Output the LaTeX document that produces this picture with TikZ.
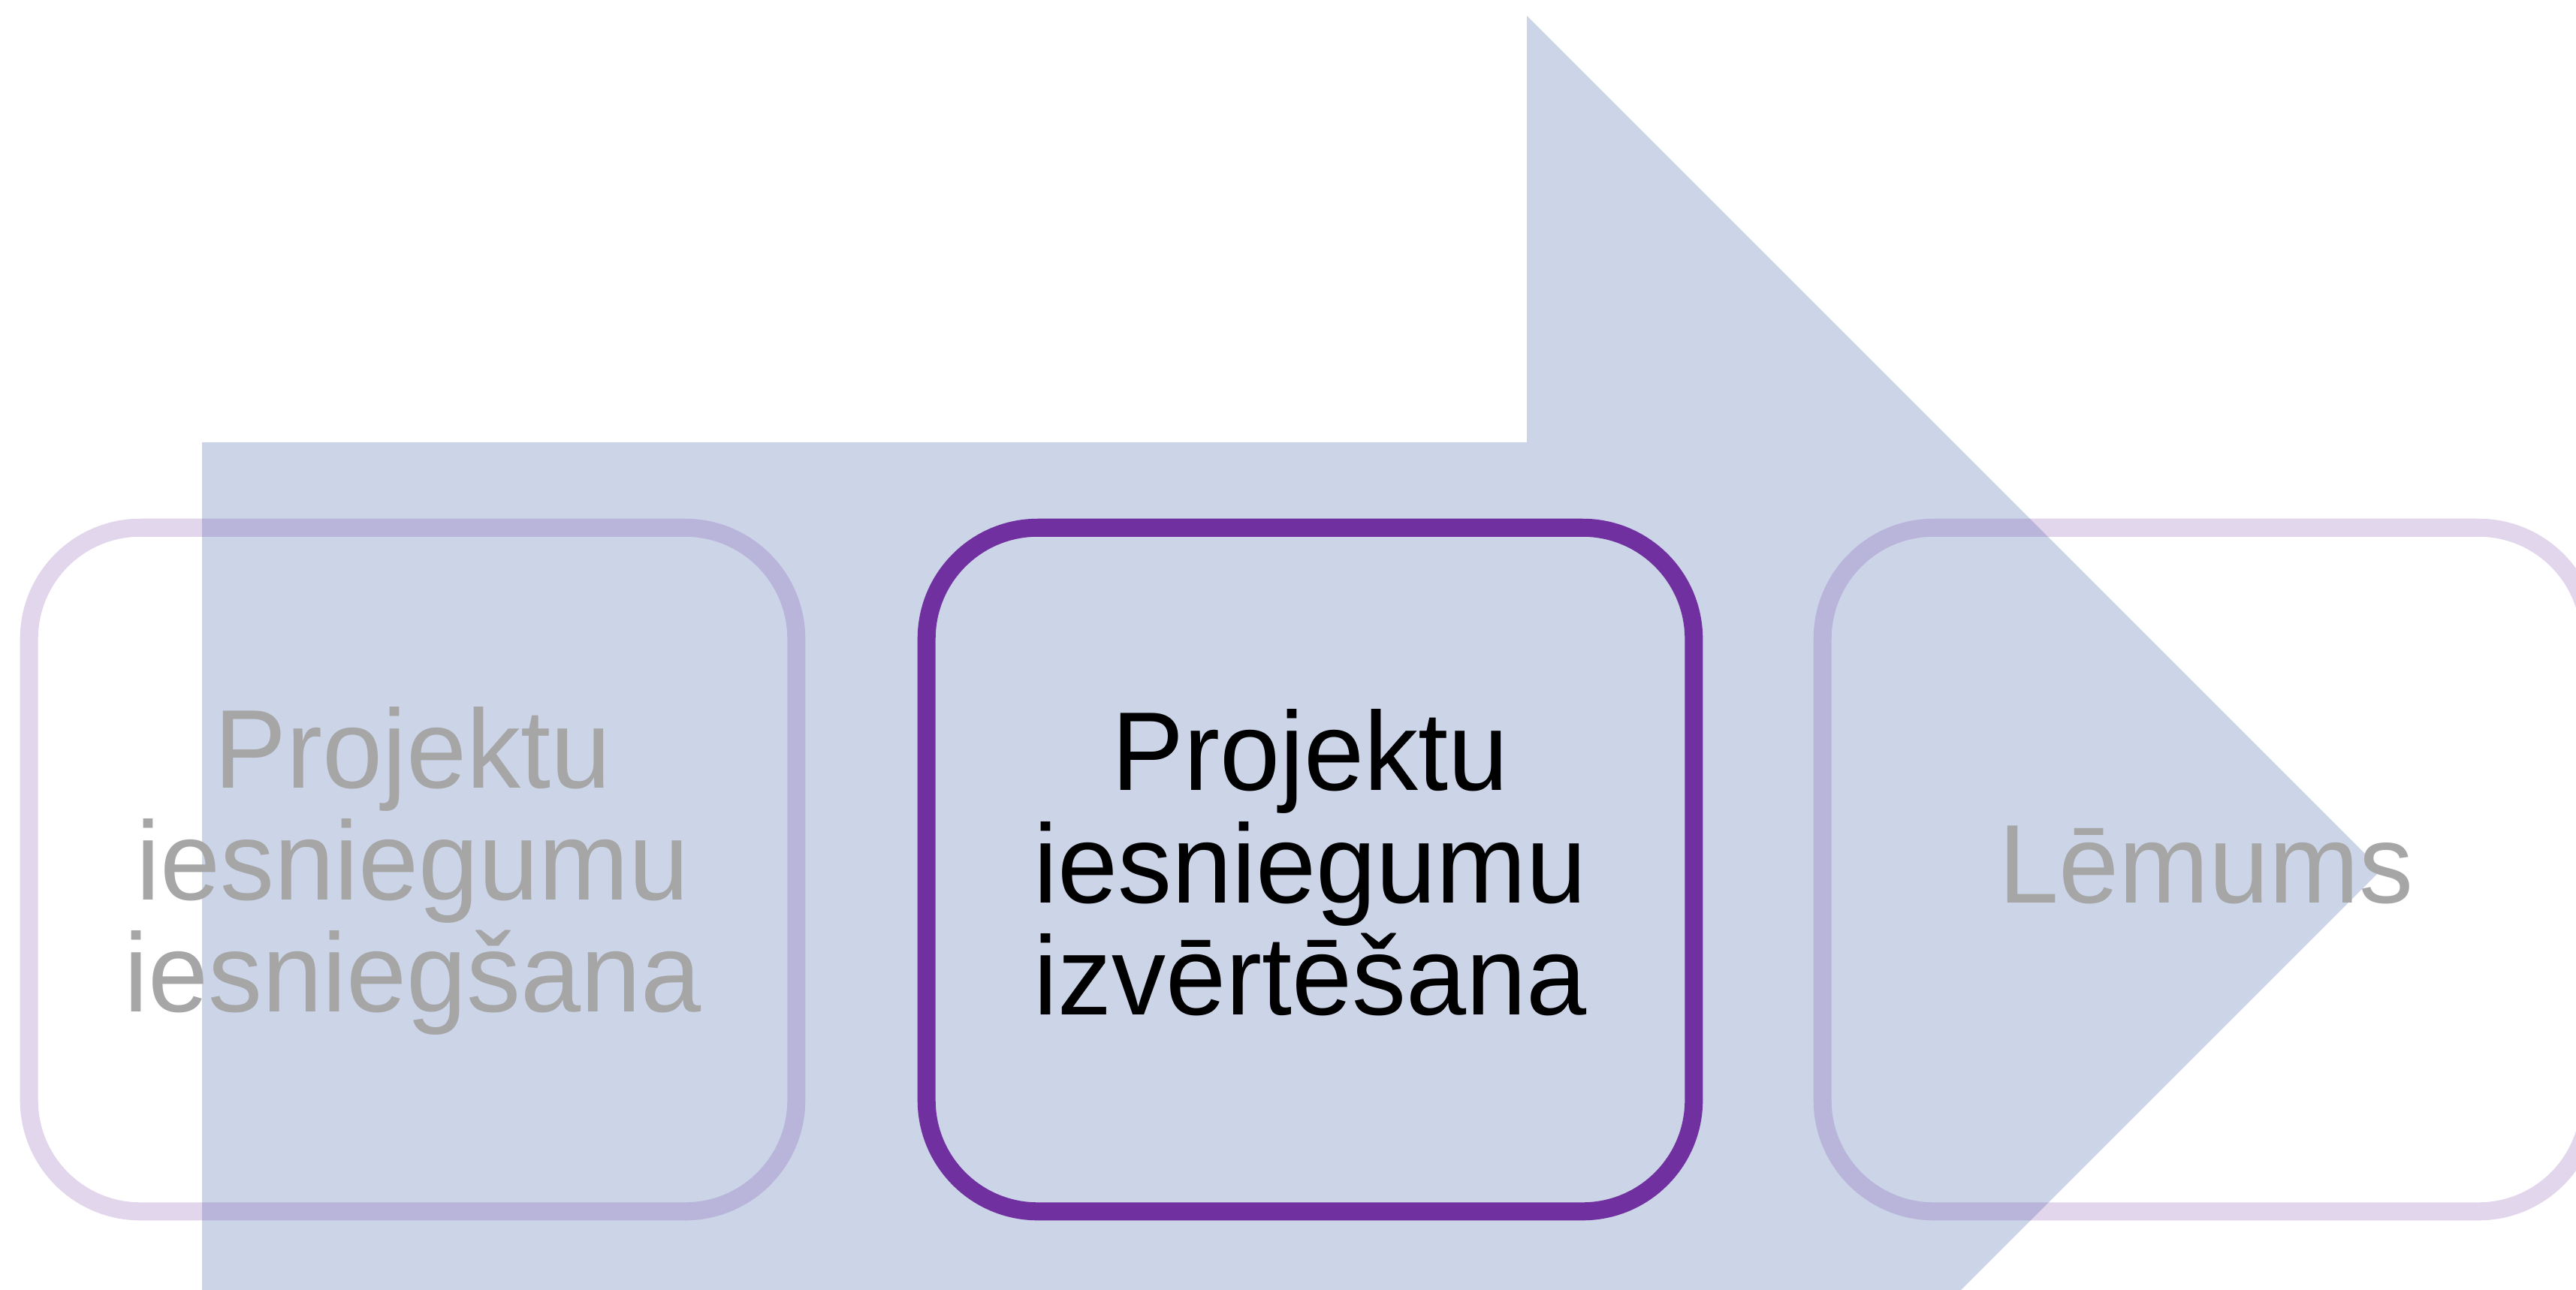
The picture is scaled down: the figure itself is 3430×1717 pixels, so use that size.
\documentclass[tikz,border=0pt]{standalone}
\usepackage{fontspec}
\setmainfont[FakeStretch=0.966]{Liberation Sans}
\definecolor{arrowblue}{RGB}{204,213,232}
\definecolor{boxpurple}{HTML}{7030A0}
\definecolor{dimgray}{HTML}{A6A6A6}
\newcommand{\tstrut}{\rule{0pt}{0.75em}}
\newcommand{\bstrut}{\rule[-0.16em]{0pt}{0.16em}}
\begin{document}
\begin{tikzpicture}[x=0.01cm,y=-0.01cm,
  stagebox/.style={draw=boxpurple, line width=0.24cm, rounded corners=1.48cm,
    minimum width=10.21cm, minimum height=9.10cm, align=center,
    font={\fontsize{42.4}{42.5}\selectfont\lineskiplimit=-60pt}, inner sep=0pt},
  dimbox/.style={stagebox, draw opacity=0.2, text=dimgray},
  activebox/.style={stagebox, text=black}]
\useasboundingbox (0,0) rectangle (3430,1717);
\clip (0,0) rectangle (3430,1717);
\fill[arrowblue] (269,589) -- (2033,589) -- (2033,21) -- (3170.5,1158.5)
  -- (2033,2296) -- (2033,1727) -- (269,1727) -- cycle;
\node[dimbox] (s1) at (549.5,1158) {\tstrut Projektu\\iesniegumu\\iesniegšana\bstrut};
\node[activebox] (s2) at (1744.5,1158) {\tstrut Projektu\\iesniegumu\\izvērtēšana\bstrut};
\node[dimbox] (s3) at (2937.5,1158) {\tstrut Lēmums\bstrut};
\end{tikzpicture}
\end{document}
